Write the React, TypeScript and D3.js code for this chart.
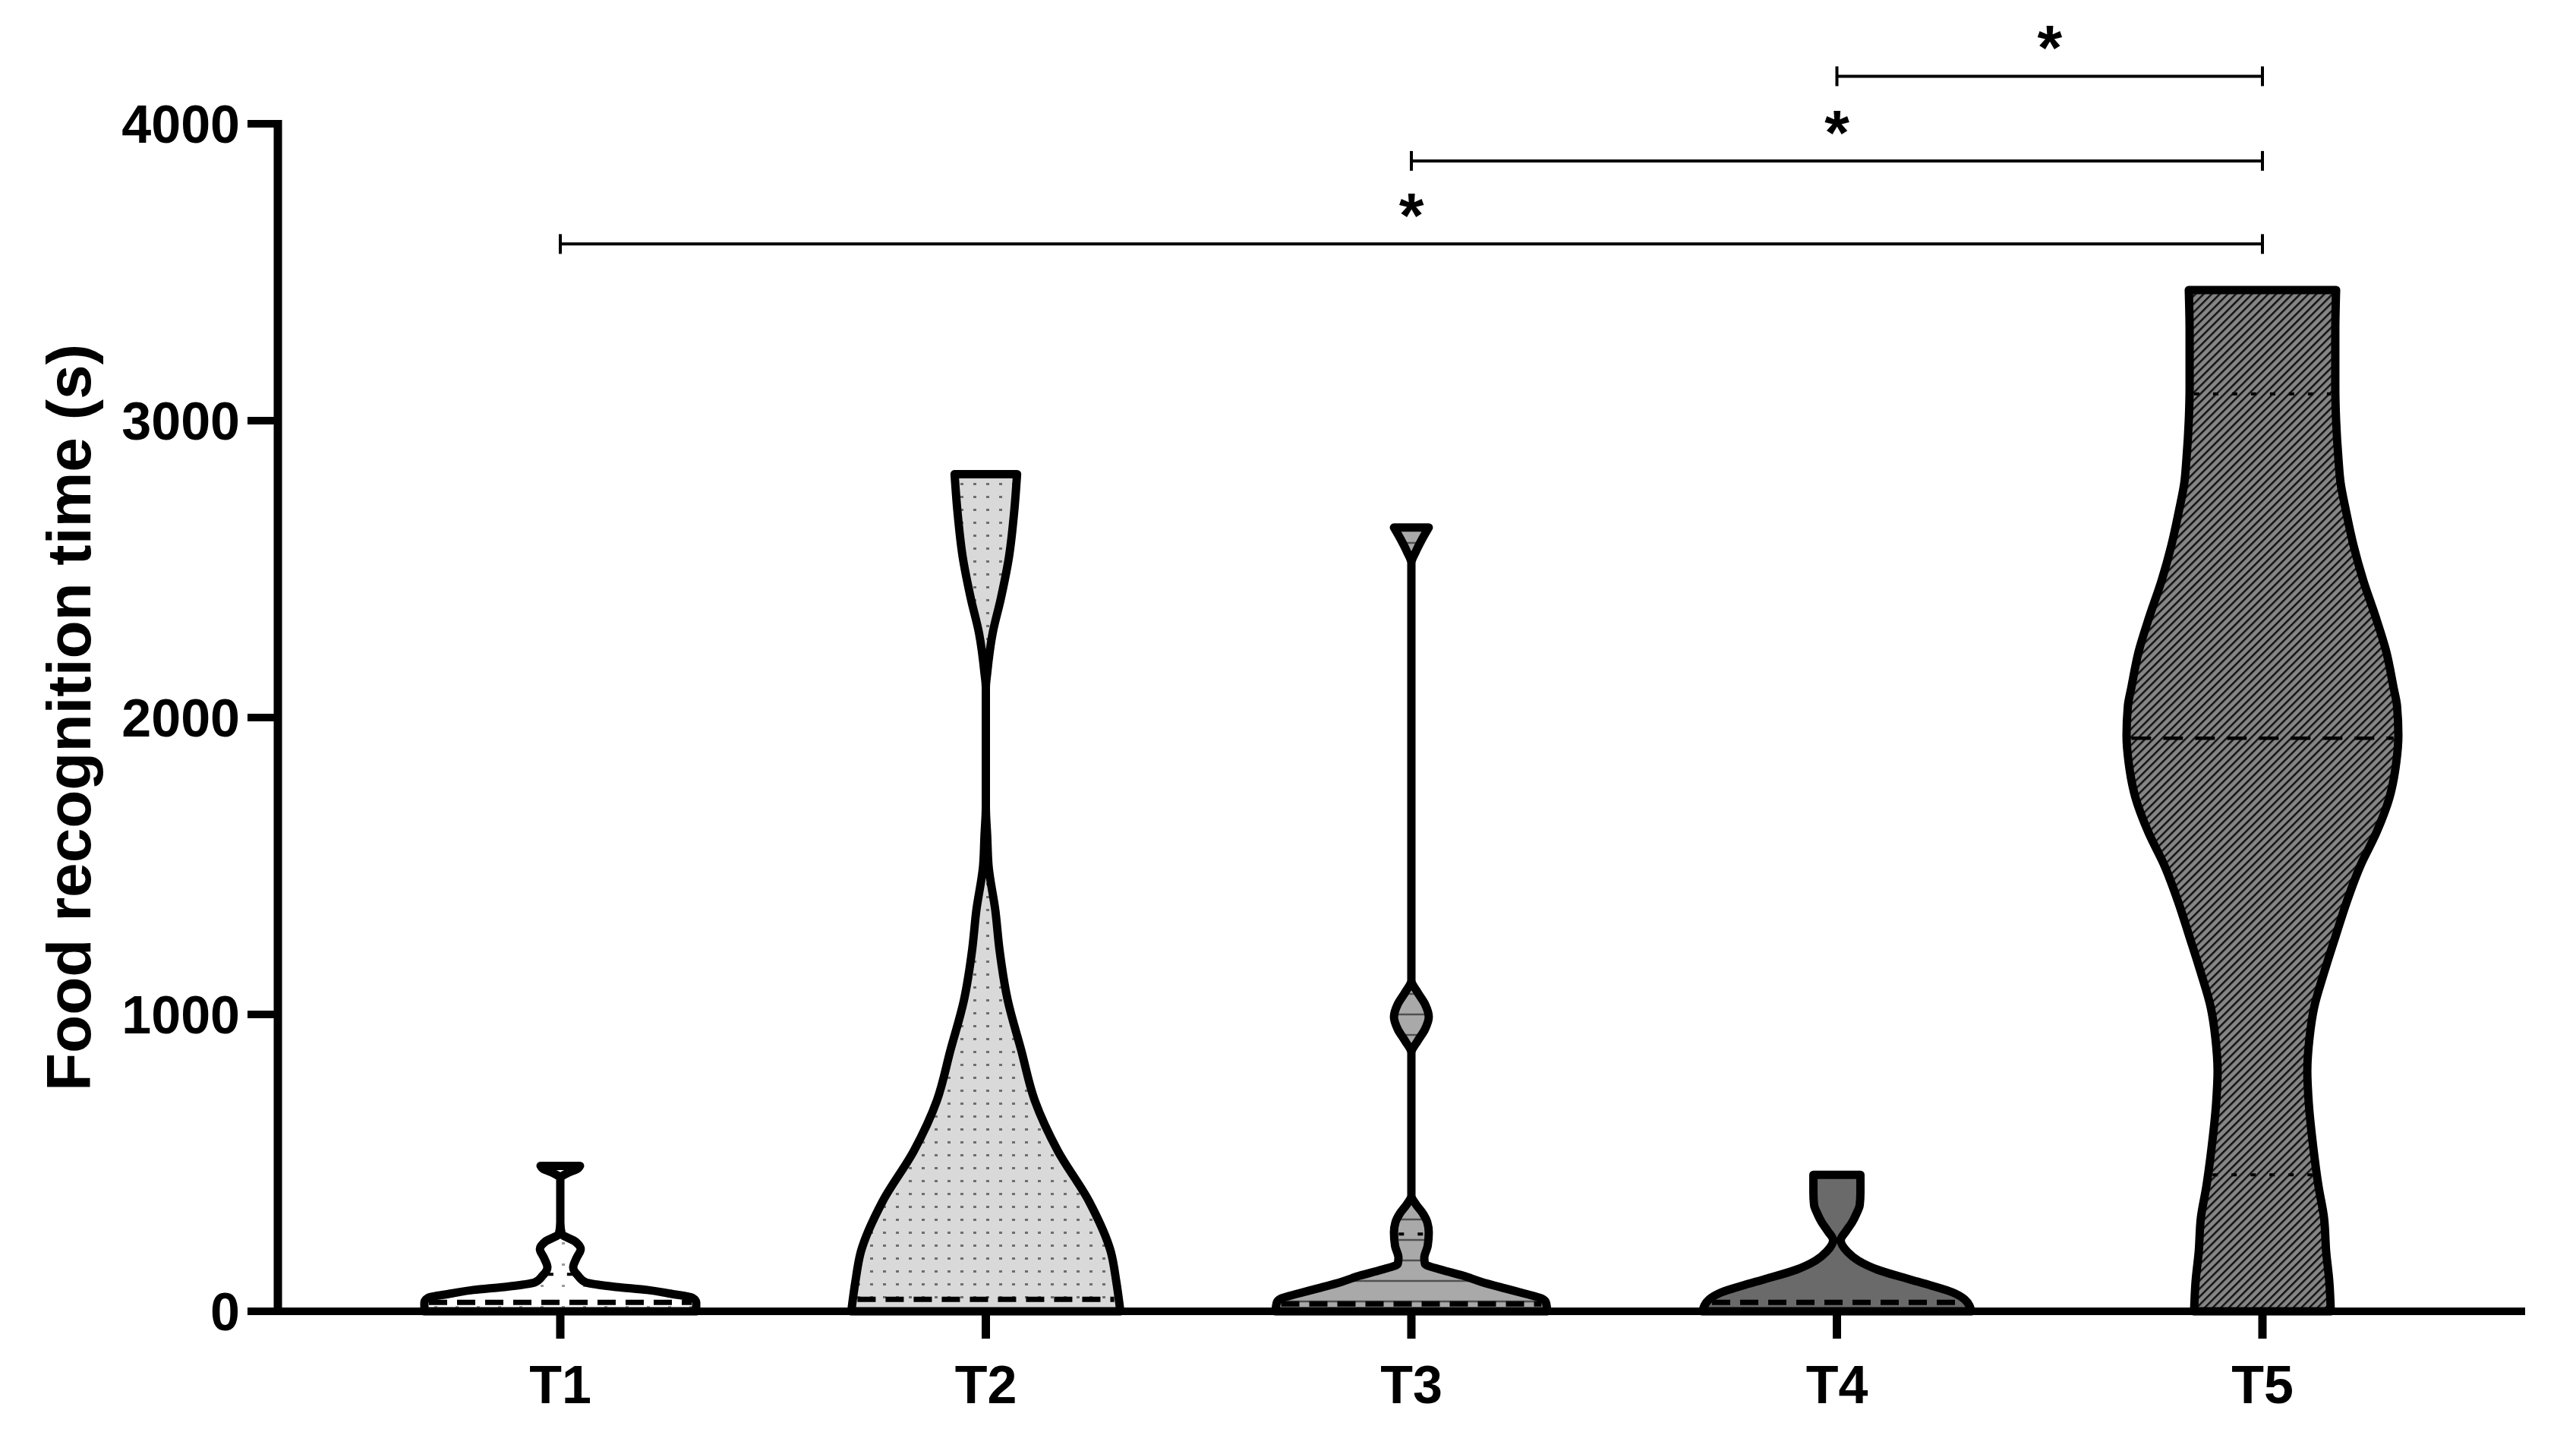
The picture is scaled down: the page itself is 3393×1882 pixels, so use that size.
import React from 'react';
import * as d3 from 'd3';

// ---------- data ----------
const categories = ['T1', 'T2', 'T3', 'T4', 'T5'];
const yTickValues = [0, 1000, 2000, 3000, 4000];
const yAxisTitle = 'Food recognition time (s)';

// violin outlines: recognition time (s) and relative kernel density (0..1)
const t1Values = [0, 30, 46, 60, 72, 82, 90, 97, 120, 148, 180, 210, 235, 261, 300, 448, 465, 481, 490];
const t1Density = [1.0, 1.0, 0.97, 0.8, 0.64, 0.41, 0.27, 0.19, 0.13, 0.095, 0.12, 0.15, 0.11, 0.01, 0, 0, 0.05, 0.13, 0.145];

const t2Values = [0, 100, 200, 370, 540, 710, 880, 1050, 1220, 1350, 1500, 1600, 1700, 2100, 2150, 2284, 2400, 2540, 2700, 2820];
const t2Density = [0.99, 0.96, 0.92, 0.76, 0.53, 0.36, 0.26, 0.16, 0.1, 0.07, 0.02, 0.01, 0, 0, 0.01, 0.05, 0.11, 0.17, 0.21, 0.23];

const t3Values = [0, 30, 43, 60, 77, 100, 120, 140, 160, 180, 220, 266, 300, 330, 360, 390, 870, 910, 950, 992, 1035, 1075, 1115, 2520, 2560, 2600, 2640];
const t3Density = [1.0, 0.99, 0.96, 0.83, 0.69, 0.51, 0.38, 0.22, 0.1, 0.095, 0.12, 0.128, 0.117, 0.084, 0.034, 0, 0, 0.045, 0.1, 0.128, 0.1, 0.045, 0, 0, 0.034, 0.078, 0.128];

const t4Values = [0, 40, 64, 90, 107, 140, 171, 200, 240, 270, 300, 330, 358, 400, 440, 460];
const t4Density = [0.99, 0.94, 0.85, 0.67, 0.54, 0.3, 0.156, 0.078, 0.028, 0.067, 0.112, 0.145, 0.168, 0.173, 0.173, 0.173];

const t5Values = [0, 100, 200, 315, 420, 552, 700, 810, 920, 1023, 1140, 1260, 1379, 1500, 1614, 1731, 1850, 1940, 2040, 2100, 2222, 2340, 2460, 2580, 2695, 2790, 2872, 3000, 3110, 3300, 3440];
const t5Density = [0.503, 0.492, 0.469, 0.453, 0.413, 0.374, 0.341, 0.33, 0.346, 0.38, 0.453, 0.536, 0.62, 0.72, 0.84, 0.935, 0.985, 1.0, 0.99, 0.965, 0.911, 0.832, 0.743, 0.67, 0.615, 0.575, 0.559, 0.542, 0.536, 0.536, 0.542];

const medians = [30, 40, 25, 30, 1930];
const upperQuartiles = [125, null, 260, null, 3090];
const lowerQuartiles = [null, null, null, null, 460];

const comparisonFrom = ['T4', 'T3', 'T1'];
const comparisonTo = ['T5', 'T5', 'T5'];
const comparisonLevel = [4160, 3875, 3595];
const comparisonLabel = ['*', '*', '*'];

const groupValues = [t1Values, t2Values, t3Values, t4Values, t5Values];
const groupDensity = [t1Density, t2Density, t3Density, t4Density, t5Density];

// ---------- layout / style ----------
const W = 3393;
const H = 1882;
const FONT = '"Liberation Sans", Arial, Helvetica, sans-serif';
const fills = ['url(#pat1)', 'url(#pat2)', 'url(#pat3)', '#6a6a6a', 'url(#pat5)'];

const y = d3.scaleLinear().domain([0, 4000]).range([1727, 163]);
const x = d3.scalePoint<string>().domain(categories).range([738, 2980]);
const halfW = d3.scaleLinear().domain([0, 1]).range([0, 179]);

function densityAt(vals: number[], dens: number[], v: number) {
  const interp = d3.scaleLinear().domain(vals).range(dens).clamp(true);
  return interp(v);
}

export default function App() {
  const axisX = 366;
  const axisY = y(0);

  return (
    <svg
      width={W}
      height={H}
      viewBox={`0 0 ${W} ${H}`}
      style={{ position: 'absolute', left: 0, top: 0, background: '#fff' }}
    >
      <defs>
        <pattern id="pat1" width="28" height="28" patternUnits="userSpaceOnUse">
          <rect width="28" height="28" fill="#ffffff" />
          <rect x="12" y="12" width="4" height="3" fill="#9a9a9a" />
        </pattern>
        <pattern id="pat2" width="17" height="17" patternUnits="userSpaceOnUse">
          <rect width="17" height="17" fill="#d9d9d9" />
          <rect x="7" y="7" width="4" height="3" fill="#6e6e6e" />
        </pattern>
        <pattern id="pat3" width="27" height="27" patternUnits="userSpaceOnUse">
          <rect width="27" height="27" fill="#a9a9a9" />
          <line x1="0" x2="27" y1="13" y2="13" stroke="#505050" strokeWidth="2.5" />
        </pattern>
        <pattern id="pat5" width="7.5" height="7.5" patternUnits="userSpaceOnUse" patternTransform="rotate(45)">
          <rect width="7.5" height="7.5" fill="#858585" />
          <line x1="1.2" x2="1.2" y1="0" y2="7.5" stroke="#111" strokeWidth="2.5" />
        </pattern>
      </defs>

      {/* violins */}
      {categories.map((c, i) => {
        const cx = x(c) as number;
        const pts = groupValues[i].map((v, k) => ({ v, d: groupDensity[i][k] })).reverse();
        const area = d3
          .area<{ v: number; d: number }>()
          .y((p) => y(p.v))
          .x0((p) => cx - halfW(p.d))
          .x1((p) => cx + halfW(p.d))
          .curve(d3.curveMonotoneY);
        const lineW = (v: number) => Math.max(0, halfW(densityAt(groupValues[i], groupDensity[i], v)) - 6);
        const med = medians[i];
        const q3 = upperQuartiles[i];
        const q1 = lowerQuartiles[i];
        return (
          <g key={c}>
            <path
              d={area(pts) || ''}
              fill={fills[i]}
              stroke="#000"
              strokeWidth={11}
              strokeLinejoin="round"
            />
            <line
              x1={cx - lineW(med)}
              x2={cx + lineW(med)}
              y1={y(med)}
              y2={y(med)}
              stroke="#000"
              strokeWidth={i === 4 ? 4.5 : 7}
              strokeDasharray={i === 4 ? '26 16' : '24 13'}
            />
            {q3 !== null && (
              <line
                x1={cx - lineW(q3)}
                x2={cx + lineW(q3)}
                y1={y(q3)}
                y2={y(q3)}
                stroke="#000"
                strokeWidth={4}
                strokeDasharray="7 18"
              />
            )}
            {q1 !== null && (
              <line
                x1={cx - lineW(q1)}
                x2={cx + lineW(q1)}
                y1={y(q1)}
                y2={y(q1)}
                stroke="#000"
                strokeWidth={4}
                strokeDasharray="7 18"
              />
            )}
          </g>
        );
      })}

      {/* y axis */}
      <line x1={axisX} x2={axisX} y1={axisY + 5} y2={y(4000) - 5} stroke="#000" strokeWidth={11} />
      {yTickValues.map((t) => (
        <g key={t}>
          <line x1={326} x2={axisX} y1={y(t)} y2={y(t)} stroke="#000" strokeWidth={10} />
          <text
            x={316}
            y={y(t) + 25}
            textAnchor="end"
            fontFamily={FONT}
            fontWeight="bold"
            fontSize={70}
            fill="#000"
          >
            {t}
          </text>
        </g>
      ))}
      <text
        transform={`translate(119, ${(y(0) + y(4000)) / 2}) rotate(-90)`}
        textAnchor="middle"
        fontFamily={FONT}
        fontWeight="bold"
        fontSize={82}
        fill="#000"
      >
        {yAxisTitle}
      </text>

      {/* x axis */}
      <line x1={axisX} x2={3326} y1={axisY} y2={axisY} stroke="#000" strokeWidth={10} />
      {categories.map((c) => (
        <g key={c}>
          <line x1={x(c)} x2={x(c)} y1={axisY} y2={axisY + 36} stroke="#000" strokeWidth={11} />
          <text
            x={x(c)}
            y={1848}
            textAnchor="middle"
            fontFamily={FONT}
            fontWeight="bold"
            fontSize={70}
            fill="#000"
          >
            {c}
          </text>
        </g>
      ))}

      {/* significance bars */}
      {comparisonFrom.map((f, k) => {
        const x1 = x(f) as number;
        const x2 = x(comparisonTo[k]) as number;
        const yy = y(comparisonLevel[k]);
        return (
          <g key={k}>
            <line x1={x1} x2={x2} y1={yy} y2={yy} stroke="#000" strokeWidth={4} />
            <line x1={x1} x2={x1} y1={yy - 13} y2={yy + 13} stroke="#000" strokeWidth={4} />
            <line x1={x2} x2={x2} y1={yy - 13} y2={yy + 13} stroke="#000" strokeWidth={4} />
            <text
              x={(x1 + x2) / 2}
              y={yy - 54 + 46}
              textAnchor="middle"
              fontFamily={FONT}
              fontWeight="bold"
              fontSize={84}
              fill="#000"
            >
              {comparisonLabel[k]}
            </text>
          </g>
        );
      })}
    </svg>
  );
}
